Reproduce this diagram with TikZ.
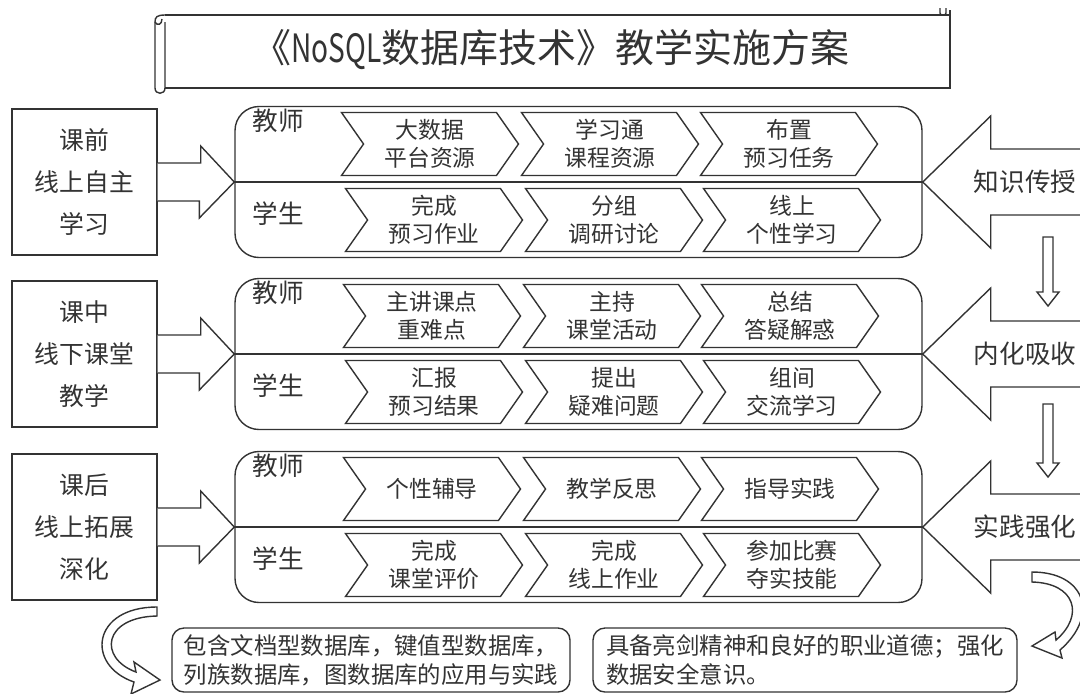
\documentclass[tikz,border=0pt]{standalone}
\usepackage{fontspec}
\setmainfont{Noto Sans CJK SC}
\usetikzlibrary{shapes.symbols}

\newcommand{\titlefont}{\fontsize{19.5}{22}\selectfont}
\newcommand{\stagefont}{\fontsize{12.4}{21}\selectfont}
\newcommand{\chevfont}{\fontsize{11.4}{14}\selectfont}
\newcommand{\rolefont}{\fontsize{12.8}{14}\selectfont}
\newcommand{\sidefont}{\fontsize{12.8}{14}\selectfont}
\newcommand{\notefont}{\fontsize{11.7}{14.5}\selectfont}

\tikzset{
  stagebox/.style={rectangle, draw, fill=white, minimum width=72.5pt, minimum height=73pt, align=center, font=\stagefont, inner sep=0pt},
  panel/.style={rectangle, draw, rounded corners=12pt, minimum width=343.5pt, minimum height=75.5pt},
  chev/.style={signal, draw, fill=white, signal from=west, signal to=east, signal pointer angle=110, minimum width=88.5pt, minimum height=31.5pt, inner sep=0pt, align=center, font=\chevfont},
  role/.style={inner sep=0pt, font=\rolefont},
  blockarrow/.style={draw, fill=white, line join=miter},
  notebox/.style={rectangle, draw, rounded corners=6pt, minimum height=32pt, align=left, font=\notefont, inner sep=0pt},
}

\begin{document}
\begin{tikzpicture}[x=0.5pt, y=-0.5pt, line width=0.7pt, color=black!80]
    \useasboundingbox (0,0) rectangle (1080,693);
    \clip (0,0) rectangle (1080,693);

    % title scroll
    \draw (165,15) -- (950,15);
    \draw (950,10) -- (950,88) -- (165,88);
    \draw (940,8) -- (940,13) .. controls (940,16) and (946,16) .. (946,13) -- (946,8);
    \draw (165,15) .. controls (157,15) and (155,17) .. (155,22) -- (155,88) .. controls (155,95) and (165,95) .. (165,88) -- (165,22);
    \draw (155,22) .. controls (157,26) and (162,25) .. (162,19);
    \node (title) [font=\titlefont, inner sep=0pt] at (551,50) {《\scalebox{0.72}[1]{NoSQL}数据库技术》教学实施方案};

    % stages
    \node (s1) [stagebox] at (84.5,182) {课前\\线上自主\\学习};
    \node (s2) [stagebox] at (84.5,354) {课中\\线下课堂\\教学};
    \node (s3) [stagebox] at (84.5,527) {课后\\线上拓展\\深化};

    \node (p1) [panel] at (578.5,182) {};
    \node (p2) [panel] at (578.5,354) {};
    \node (p3) [panel] at (578.5,527) {};
    \draw (p1.west) -- (p1.east);
    \draw (p2.west) -- (p2.east);
    \draw (p3.west) -- (p3.east);

    \draw[blockarrow] ([yshift=9.5pt]s1.east) -- ++(43,0) -- ++(0,-17) -- (p1.west) -- ++(-35,36) -- ++(0,-17) -- ([yshift=-9.5pt]s1.east);
    \draw[blockarrow] ([yshift=9.5pt]s2.east) -- ++(43,0) -- ++(0,-17) -- (p2.west) -- ++(-35,36) -- ++(0,-17) -- ([yshift=-9.5pt]s2.east);
    \draw[blockarrow] ([yshift=9.5pt]s3.east) -- ++(43,0) -- ++(0,-17) -- (p3.west) -- ++(-35,36) -- ++(0,-17) -- ([yshift=-9.5pt]s3.east);

    % roles
    \node (tr1) [role] at (278,121) {教师};
    \node (sr1) [role] at (278,214) {学生};
    \node (tr2) [role] at (278,293) {教师};
    \node (sr2) [role] at (278,386) {学生};
    \node (tr3) [role] at (278,466) {教师};
    \node (sr3) [role] at (278,559) {学生};

    % before class
    \node (t1a) [chev] at (430,144) {大数据\\平台资源};
    \node (t1b) [chev] at (610,144) {学习通\\课程资源};
    \node (t1c) [chev] at (789,144) {布置\\预习任务};
    \node (u1a) [chev] at (434,220) {完成\\预习作业};
    \node (u1b) [chev] at (614,220) {分组\\调研讨论};
    \node (u1c) [chev] at (792,220) {线上\\个性学习};

    % in class
    \node (t2a) [chev] at (432,316) {主讲课点\\重难点};
    \node (t2b) [chev] at (612,316) {主持\\课堂活动};
    \node (t2c) [chev] at (790,316) {总结\\答疑解惑};
    \node (u2a) [chev] at (434,392) {汇报\\预习结果};
    \node (u2b) [chev] at (614,392) {提出\\疑难问题};
    \node (u2c) [chev] at (792,392) {组间\\交流学习};

    % after class
    \node (t3a) [chev] at (432,489) {个性辅导};
    \node (t3b) [chev] at (612,489) {教学反思};
    \node (t3c) [chev] at (790,489) {指导实践};
    \node (u3a) [chev] at (434,565) {完成\\课堂评价};
    \node (u3b) [chev] at (614,565) {完成\\线上作业};
    \node (u3c) [chev] at (792,565) {参加比赛\\夺实技能};

    % right side
    \draw[blockarrow] (p1.east) ++(168,-33) -- ++(-100,0) -- ++(0,-33) -- (p1.east) -- ++(68,66) -- ++(0,-33) -- ++(100,0);
    \draw[blockarrow] (p2.east) ++(168,-33) -- ++(-100,0) -- ++(0,-33) -- (p2.east) -- ++(68,66) -- ++(0,-33) -- ++(100,0);
    \draw[blockarrow] (p3.east) ++(168,-33) -- ++(-100,0) -- ++(0,-33) -- (p3.east) -- ++(68,66) -- ++(0,-33) -- ++(100,0);
    \node (k1) [font=\sidefont] at (1025,182) {知识传授};
    \node (k2) [font=\sidefont] at (1025,354) {内化吸收};
    \node (k3) [font=\sidefont] at (1025,527) {实践强化};

    \draw[blockarrow] (1043,237) -- (1043,292) -- (1037,292) -- (1048,306) -- (1059,292) -- (1053,292) -- (1053,237) -- cycle;
    \draw[blockarrow] (1043,404) -- (1043,463) -- (1037,463) -- (1048,477) -- (1059,463) -- (1053,463) -- (1053,404) -- cycle;

    % outcomes
    \node (n1) [notebox, minimum width=199pt] at (371,660) {包含文档型数据库，键值型数据库，\\列族数据库，图数据库的应用与实践};
    \node (n2) [notebox, minimum width=212pt] at (805,660) {具备亮剑精神和良好的职业道德；强化\\数据安全意识。};

    \draw[blockarrow] (157,607) .. controls (92,607) and (85,665) .. (134,682) -- (131,694) -- (160,680) -- (134,662) -- (136,672) .. controls (98,658) and (103,617) .. (157,616) -- cycle;
    \draw[blockarrow] (1032,572) .. controls (1085,572) and (1100,615) .. (1060,650) -- (1062,658) -- (1032,646) -- (1055,632) -- (1056,640) .. controls (1085,615) and (1075,583) .. (1032,582) -- cycle;
\end{tikzpicture}
\end{document}
